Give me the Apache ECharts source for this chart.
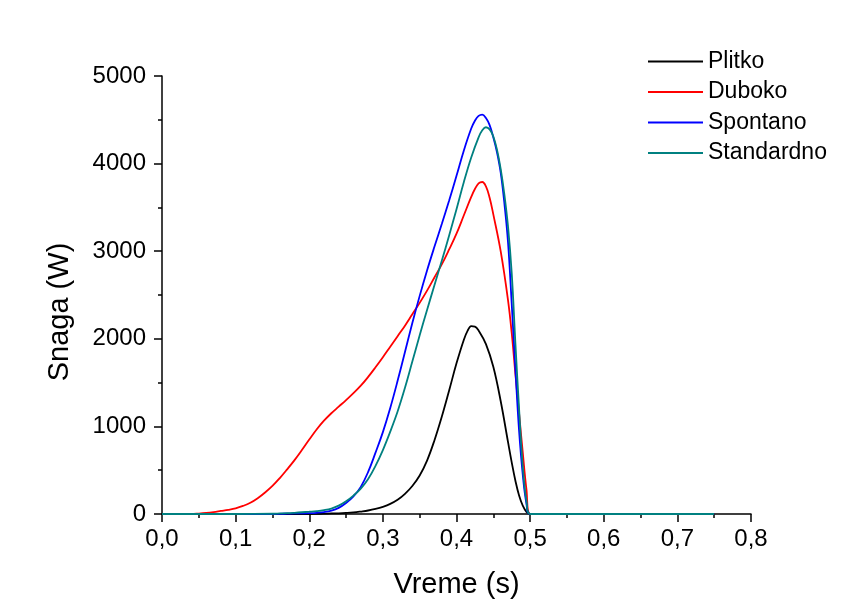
<!DOCTYPE html>
<html>
<head>
<meta charset="utf-8">
<script src="https://cdn.jsdelivr.net/npm/echarts@6/dist/echarts.min.js"></script>
<style>
  html, body { margin: 0; padding: 0; background: #fff; }
  #chart { width: 858px; height: 607px; }
</style>
</head>
<body>
<div id="chart"></div>
<script>
// Power (W) over time (s) for four jump techniques
const seriesNames = ['Plitko', 'Duboko', 'Spontano', 'Standardno'];
const seriesColors = ['#000000', '#ff0000', '#0000ff', '#008080'];

const plitko = [
  [0, 0], [0.20, 0], [0.21, 2], [0.22, 4], [0.23, 6], [0.24, 8], [0.25, 12], [0.26, 18],
  [0.27, 28], [0.28, 40], [0.29, 58], [0.30, 82], [0.31, 115], [0.32, 162], [0.33, 230],
  [0.34, 320], [0.35, 440], [0.36, 610], [0.37, 840], [0.38, 1110], [0.39, 1410],
  [0.40, 1720], [0.41, 1990], [0.415, 2090], [0.42, 2145], [0.425, 2140], [0.43, 2095],
  [0.44, 1940], [0.45, 1680], [0.46, 1290], [0.47, 820], [0.475, 590], [0.48, 380],
  [0.485, 210], [0.49, 95], [0.495, 25], [0.50, 0], [0.75, 0]
];
const duboko = [
  [0, 0], [0.04, 0], [0.05, 5], [0.06, 12], [0.07, 22], [0.08, 35], [0.09, 48], [0.10, 65],
  [0.11, 92], [0.12, 128], [0.13, 180], [0.14, 245], [0.15, 320], [0.16, 410], [0.17, 510],
  [0.18, 615], [0.19, 730], [0.20, 850], [0.21, 965], [0.22, 1065], [0.23, 1150],
  [0.24, 1225], [0.25, 1300], [0.26, 1380], [0.27, 1465], [0.28, 1565], [0.29, 1675],
  [0.30, 1790], [0.31, 1910], [0.32, 2030], [0.33, 2150], [0.34, 2280], [0.35, 2410],
  [0.36, 2550], [0.37, 2700], [0.38, 2850], [0.39, 3020], [0.40, 3200], [0.41, 3410],
  [0.42, 3620], [0.425, 3710], [0.43, 3775], [0.435, 3790], [0.44, 3740], [0.445, 3610],
  [0.45, 3420], [0.46, 3000], [0.47, 2440], [0.475, 2066], [0.48, 1600], [0.485, 1150],
  [0.49, 700], [0.495, 280], [0.50, 0], [0.75, 0]
];
const spontano = [
  [0, 0], [0.15, 0], [0.16, 2], [0.17, 4], [0.18, 6], [0.19, 8], [0.20, 10], [0.21, 14],
  [0.22, 22], [0.23, 38], [0.24, 70], [0.25, 125], [0.26, 200], [0.27, 310], [0.28, 480],
  [0.29, 700], [0.30, 935], [0.31, 1210], [0.32, 1520], [0.33, 1850], [0.34, 2180],
  [0.35, 2490], [0.36, 2780], [0.37, 3050], [0.38, 3310], [0.39, 3580], [0.40, 3860],
  [0.41, 4150], [0.42, 4400], [0.425, 4490], [0.43, 4545], [0.435, 4560], [0.44, 4520],
  [0.445, 4440], [0.45, 4300], [0.455, 4130], [0.46, 3900], [0.465, 3550], [0.47, 3100],
  [0.475, 2400], [0.48, 1650], [0.485, 950], [0.49, 450], [0.495, 120], [0.50, 0], [0.75, 0]
];
const standardno = [
  [0, 0], [0.10, 0], [0.15, 3], [0.16, 6], [0.17, 9], [0.18, 14], [0.19, 20], [0.20, 26],
  [0.21, 33], [0.22, 44], [0.23, 62], [0.24, 95], [0.25, 145], [0.26, 210], [0.27, 290],
  [0.28, 400], [0.29, 550], [0.30, 730], [0.31, 940], [0.32, 1170], [0.33, 1440],
  [0.34, 1740], [0.35, 2040], [0.36, 2330], [0.37, 2610], [0.38, 2890], [0.39, 3180],
  [0.40, 3480], [0.41, 3790], [0.42, 4070], [0.43, 4300], [0.435, 4380], [0.44, 4415],
  [0.445, 4390], [0.45, 4310], [0.455, 4160], [0.46, 3940], [0.465, 3650], [0.47, 3280],
  [0.475, 2750], [0.48, 1950], [0.485, 1200], [0.49, 540], [0.495, 150], [0.50, 0], [0.75, 0]
];
const seriesData = [plitko, duboko, spontano, standardno];

const xTickLabels = ['0,0', '0,1', '0,2', '0,3', '0,4', '0,5', '0,6', '0,7', '0,8'];
const yTickLabels = ['0', '1000', '2000', '3000', '4000', '5000'];

const FONT = 'Liberation Sans, Arial, sans-serif';
const chart = echarts.init(document.getElementById('chart'), null, { renderer: 'canvas' });

chart.setOption({
  animation: false,
  backgroundColor: '#ffffff',
  grid: { left: 162, top: 76, width: 589, height: 438, containLabel: false },
  legend: {
    orient: 'vertical',
    left: 643,
    top: 45,
    icon: 'rect',
    itemWidth: 55,
    itemHeight: 2,
    itemGap: 7.5,
    textStyle: { fontFamily: FONT, fontSize: 23, color: '#000' },
    data: seriesNames
  },
  xAxis: {
    type: 'value',
    min: 0, max: 0.8, interval: 0.1,
    name: 'Vreme (s)',
    nameLocation: 'middle',
    nameGap: 56,
    nameTextStyle: { fontFamily: FONT, fontSize: 29, color: '#000' },
    axisLine: { show: true, lineStyle: { color: '#000', width: 1.5 } },
    axisTick: { show: true, inside: false, length: 8, lineStyle: { color: '#000', width: 1.5 } },
    minorTick: { show: true, splitNumber: 2, length: 4, lineStyle: { color: '#000', width: 1.5 } },
    splitLine: { show: false },
    axisLabel: {
      fontFamily: FONT, fontSize: 24, color: '#000', margin: 13,
      formatter: v => xTickLabels[Math.round(v * 10)]
    }
  },
  yAxis: {
    type: 'value',
    min: 0, max: 5000, interval: 1000,
    name: 'Snaga (W)',
    nameLocation: 'middle',
    nameGap: 88,
    nameTextStyle: { fontFamily: FONT, fontSize: 29, color: '#000', padding: [0, 34, 0, 0] },
    axisLine: { show: true, lineStyle: { color: '#000', width: 1.5 } },
    axisTick: { show: true, inside: false, length: 8, lineStyle: { color: '#000', width: 1.5 } },
    minorTick: { show: true, splitNumber: 2, length: 4, lineStyle: { color: '#000', width: 1.5 } },
    splitLine: { show: false },
    axisLabel: {
      fontFamily: FONT, fontSize: 24, color: '#000', margin: 16,
      formatter: v => yTickLabels[Math.round(v / 1000)]
    }
  },
  series: seriesNames.map((name, i) => ({
    name: name,
    type: 'line',
    data: seriesData[i],
    smooth: 0.4,
    symbol: 'none',
    lineStyle: { color: seriesColors[i], width: 1.8 },
    itemStyle: { color: seriesColors[i] }
  }))
});
</script>
</body>
</html>
